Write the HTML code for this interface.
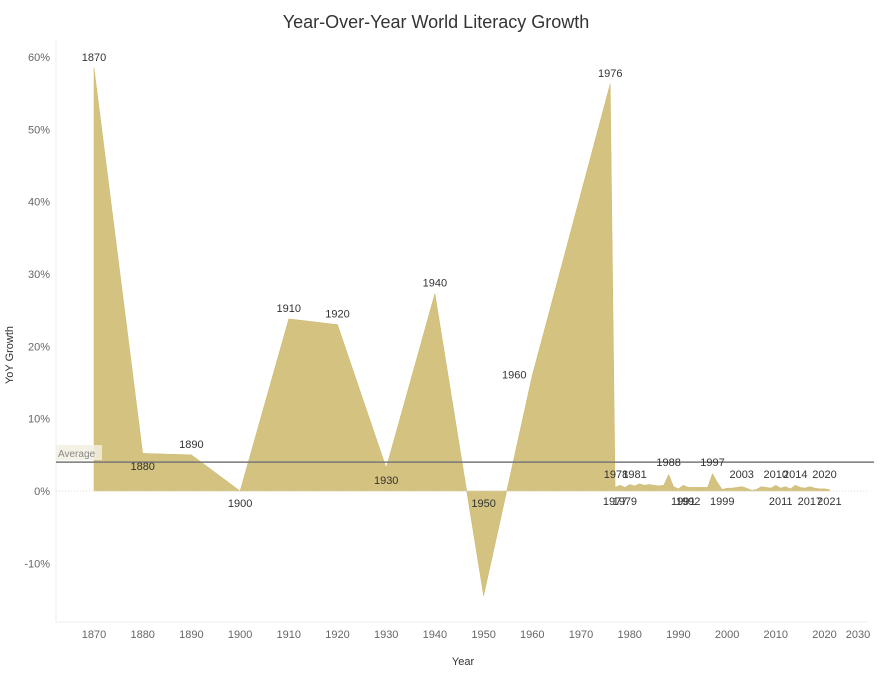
<!DOCTYPE html>
<html><head><meta charset="utf-8"><style>
body{margin:0;background:#fff;font-family:"Liberation Sans",sans-serif;}
svg text{font-family:"Liberation Sans",sans-serif;}
</style></head><body>
<svg id="chart" width="880" height="676">
<text x="436" y="28" text-anchor="middle" font-size="18" fill="#333">Year-Over-Year World Literacy Growth</text>
<text transform="translate(13,355) rotate(-90)" text-anchor="middle" font-size="11" fill="#333">YoY Growth</text>
<text x="463" y="665" text-anchor="middle" font-size="11" fill="#333">Year</text>
<line x1="56" y1="40" x2="56" y2="622" stroke="#eee"/>
<line x1="56" y1="622" x2="868" y2="622" stroke="#eee"/>
<g id="yticks"></g><g id="xticks"></g><g id="marks"></g><g id="labels"></g>
</svg>
<script>
const years=[1870,1880,1890,1900,1910,1920,1930,1940,1950,1960,1976,1977,1978,1979,1980,1981,1982,1983,1984,1985,1986,1987,1988,1989,1990,1991,1992,1993,1994,1995,1996,1997,1998,1999,2000,2001,2002,2003,2004,2005,2006,2007,2008,2009,2010,2011,2012,2013,2014,2015,2016,2017,2018,2019,2020,2021];
const growth=[58.5,5.2,5.0,0,23.8,23.0,3.2,27.3,-14.5,16.0,56.3,0.5,0.8,0.5,0.9,0.7,1.0,0.8,0.9,0.8,0.7,0.8,2.3,0.6,0.3,0.8,0.5,0.5,0.5,0.5,0.5,2.4,1.2,0.2,0.4,0.4,0.5,0.6,0.4,0.1,0.2,0.6,0.5,0.4,0.8,0.4,0.6,0.3,0.8,0.5,0.4,0.6,0.4,0.3,0.3,0.2];
const labelYears=[1870,1880,1890,1900,1910,1920,1930,1940,1950,1960,1976,1977,1978,1979,1981,1988,1991,1992,1997,1999,2003,2010,2011,2014,2017,2020,2021];
const labelBelow=[0,1,0,1,0,0,1,0,1,0,0,1,0,1,0,0,1,1,0,1,0,0,1,0,1,0,1];
const yTickVals=[-10,0,10,20,30,40,50,60];
const xTickVals=[1870,1880,1890,1900,1910,1920,1930,1940,1950,1960,1970,1980,1990,2000,2010,2020,2030];
const average=4.0;
const x=v=>94+(v-1870)*4.87;
const y=v=>491-v*7.233;
const NS="http://www.w3.org/2000/svg";
function mk(tag,parent,attrs){const e=document.createElementNS(NS,tag);for(const k in attrs)e.setAttribute(k,attrs[k]);document.getElementById(parent).appendChild(e);return e;}
yTickVals.forEach(v=>{const t=mk('text','yticks',{x:50,y:y(v)+4,'text-anchor':'end','font-size':11,fill:'#666'});


t.textContent=v+'%';});
xTickVals.forEach(v=>{const t=mk('text','xticks',{x:v===2030?858:x(v),y:638,'text-anchor':'middle','font-size':11,fill:'#666'});


t.textContent=v;});
let d='M'+x(years[0])+','+y(0);
years.forEach((yr,i)=>{d+=' L'+x(yr)+','+y(growth[i]);});
d+=' L'+x(years[years.length-1])+','+y(0)+' Z';
const area=mk('path','marks',{d:d,fill:'#d3c280',stroke:'#cdb96f','stroke-width':0.5});


const zl=mk('line','marks',{x1:56,x2:868,y1:y(0),y2:y(0),stroke:'#ddd','stroke-dasharray':'1,2'});


const al=mk('line','marks',{x1:56,x2:874,y1:y(average),y2:y(average),stroke:'#777','stroke-width':1.5});


const ab=mk('rect','marks',{x:56,y:y(average)-17,width:46,height:15,fill:'#f2eee0',opacity:0.85});


const at=mk('text','marks',{x:58,y:y(average)-5,'font-size':10,fill:'#888'});


at.textContent='Average';
labelYears.forEach((yr,i)=>{const v=growth[years.indexOf(yr)];const below=labelBelow[i];
let lx=x(yr),ly=below?y(Math.max(v,0))+16:y(v)-7;
if(yr===1960){lx-=18;ly=y(v)+3;}
if(yr===1880){ly=470;}
if(yr>=1977){ly=below?505:(yr===1988||yr===1997?466:478);}
if(yr===1978) lx-=4;
const t=mk('text','labels',{x:lx,y:ly,'text-anchor':'middle','font-size':11,fill:'#333'});


t.textContent=yr;});
</script>
</body></html>
